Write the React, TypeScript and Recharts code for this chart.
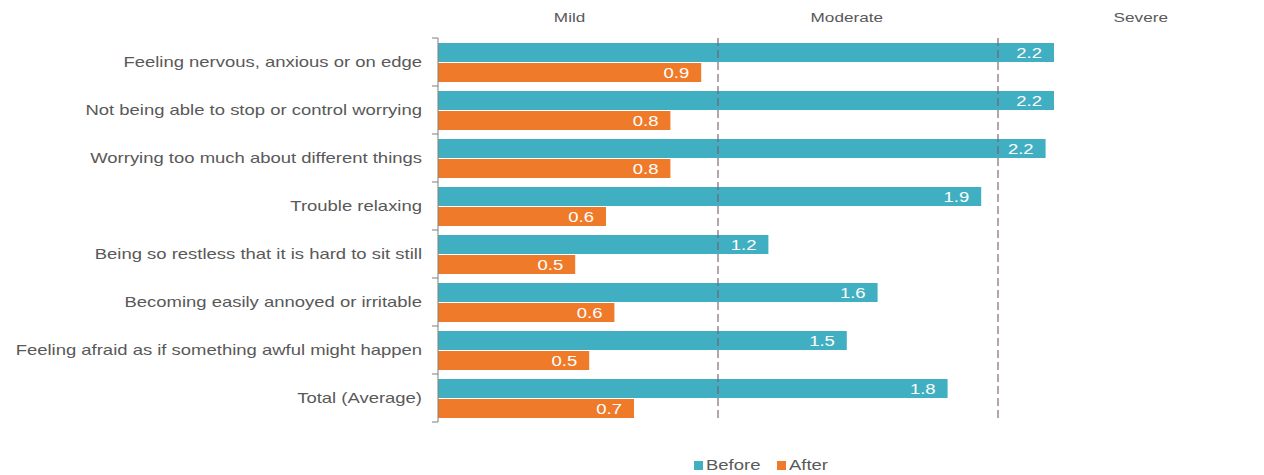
import { BarChart, Bar, XAxis, YAxis, ReferenceLine, LabelList, Legend } from "recharts";

const symptoms = [
  "Feeling nervous, anxious or on edge",
  "Not being able to stop or control worrying",
  "Worrying too much about different things",
  "Trouble relaxing",
  "Being so restless that it is hard to sit still",
  "Becoming easily annoyed or irritable",
  "Feeling afraid as if something awful might happen",
  "Total (Average)",
];
const before = [2.2, 2.2, 2.17, 1.94, 1.18, 1.57, 1.46, 1.82];
const after = [0.94, 0.83, 0.83, 0.6, 0.49, 0.63, 0.54, 0.7];
// positions of the severity headings along the score axis
const severityTicks = [0.47, 1.46, 2.51];
const severityLabels = ["Mild", "Moderate", "Severe"];

const data = symptoms.map((name, i) => ({ name, Before: before[i], After: after[i] }));

const TEAL = "#41afc2";
const ORANGE = "#ef7b2a";
const TEXT = "#595959";
const FONT = "'Liberation Sans', Arial, sans-serif";
const STRETCH = 1.32;

const BAND = 48;

function CategoryTick(props: any) {
  const { x, y, payload, index } = props;
  return (
    <g>
      <text
        transform={`translate(${x - 16},${y + 5}) scale(${STRETCH},1)`}
        textAnchor="end"
        fill={TEXT}
        fontSize={14}
        fontFamily={FONT}
      >
        {payload.value}
      </text>
      <line x1={x - 6} x2={x} y1={y - BAND / 2} y2={y - BAND / 2} stroke="#7f7f7f" />
      {index === symptoms.length - 1 && (
        <line x1={x - 6} x2={x} y1={y + BAND / 2} y2={y + BAND / 2} stroke="#7f7f7f" />
      )}
    </g>
  );
}

function SeverityTick(props: any) {
  const { x, y, payload } = props;
  const label = severityLabels[severityTicks.indexOf(payload.value)];
  return (
    <text
      transform={`translate(${x},${y - 16}) scale(${STRETCH},1)`}
      textAnchor="middle"
      fill={TEXT}
      fontSize={13}
      fontFamily={FONT}
    >
      {label}
    </text>
  );
}

function ValueLabel(props: any) {
  const { x, y, width, height, value } = props;
  return (
    <text
      transform={`translate(${x + width - 12},${y + height / 2 + 5}) scale(${STRETCH},1)`}
      textAnchor="end"
      fill="#ffffff"
      fontSize={14}
      fontFamily={FONT}
    >
      {Number(value).toFixed(1)}
    </text>
  );
}

function LegendContent() {
  const items = [
    { name: "Before", color: TEAL, w: 83 },
    { name: "After", color: ORANGE, w: 60 },
  ];
  return (
    <div style={{ height: 20, display: "flex", alignItems: "center", fontFamily: FONT, fontSize: 14, color: TEXT }}>
      {items.map((it) => (
        <div key={it.name} style={{ display: "flex", alignItems: "center", width: it.w }}>
          <span style={{ width: 9, height: 9, background: it.color, display: "inline-block", marginRight: 3 }} />
          <span style={{ display: "inline-block", transform: `scaleX(${STRETCH})`, transformOrigin: "left center" }}>
            {it.name}
          </span>
        </div>
      ))}
    </div>
  );
}

export default function App() {
  return (
    <div style={{ position: "absolute", left: 0, top: 0, fontFamily: FONT }}>
      <BarChart
        width={1264}
        height={475}
        data={data}
        layout="vertical"
        margin={{ top: 8, right: 42, bottom: 33, left: 0 }}
        barCategoryGap={4}
        barGap={1}
      >
        <XAxis
          type="number"
          orientation="top"
          domain={[0, 2.8]}
          ticks={severityTicks}
          axisLine={false}
          tickLine={false}
          tickSize={0}
          tickMargin={0}
          height={30}
          tick={<SeverityTick />}
          interval={0}
        />
        <YAxis
          type="category"
          dataKey="name"
          width={438}
          axisLine={{ stroke: "#7f7f7f" }}
          tickLine={false}
          tickSize={0}
          tickMargin={0}
          tick={<CategoryTick />}
          interval={0}
        />
        <Bar dataKey="Before" fill={TEAL} isAnimationActive={false} barSize={19}>
          <LabelList dataKey="Before" content={<ValueLabel />} />
        </Bar>
        <Bar dataKey="After" fill={ORANGE} isAnimationActive={false} barSize={19}>
          <LabelList dataKey="After" content={<ValueLabel />} />
        </Bar>
        <ReferenceLine x={1} stroke="#7a5868" strokeOpacity={0.55} strokeWidth={2} strokeDasharray="8 4" />
        <ReferenceLine x={2} stroke="#7a5868" strokeOpacity={0.55} strokeWidth={2} strokeDasharray="8 4" />
        <Legend
          verticalAlign="bottom"
          content={<LegendContent />}
          wrapperStyle={{ left: 694, width: 200, bottom: 0 }}
        />
      </BarChart>
    </div>
  );
}
